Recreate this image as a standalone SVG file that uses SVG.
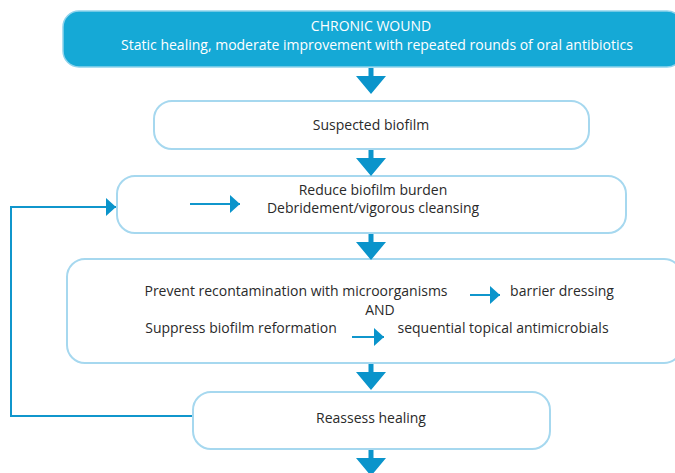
<svg xmlns="http://www.w3.org/2000/svg" width="675" height="473" viewBox="0 0 675 473">
<defs>
<style>
.box{fill:#ffffff;stroke:#a6d8ef;stroke-width:2}
.top{fill:#15a9d6;stroke:#8fd3ec;stroke-width:1.5}
.t{font-family:"Open Sans","Liberation Sans",sans-serif;font-size:14px;fill:#2a2a2a;text-anchor:middle}
.tw{font-family:"Open Sans","Liberation Sans",sans-serif;font-size:14px;fill:#ffffff;text-anchor:middle}
.big{fill:#0a94cb}
.ln{stroke:#1096cc;stroke-width:2;fill:none}
</style>
<marker id="ah" markerWidth="10" markerHeight="18" refX="10" refY="9" orient="auto" markerUnits="userSpaceOnUse">
<path d="M0,0 L10,9 L0,18 Z" fill="#0a94cb"/>
</marker>
<path id="bigarrow" d="M-2.5,0 H2.5 V8 H15 L0,26 L-15,8 H-2.5 Z"/>
</defs>

<g id="chronic-wound">
<rect class="top" x="63" y="11" width="620" height="56" rx="16"/>
<text class="tw" x="371" y="31">CHRONIC WOUND</text>
<text class="tw" x="377" y="50">Static healing, moderate improvement with repeated rounds of oral antibiotics</text>
</g>

<g id="suspected-biofilm">
<rect class="box" x="154" y="101" width="435" height="48" rx="18"/>
<text class="t" x="371" y="130">Suspected biofilm</text>
</g>

<g id="reduce-biofilm">
<rect class="box" x="117" y="176" width="509" height="57" rx="18"/>
<text class="t" x="373" y="195">Reduce biofilm burden</text>
<text class="t" x="373" y="213">Debridement/vigorous cleansing</text>
</g>

<g id="prevent-suppress">
<rect class="box" x="67" y="259" width="615" height="104" rx="18"/>
<text class="t" x="296" y="296">Prevent recontamination with microorganisms</text>
<text class="t" x="562" y="296">barrier dressing</text>
<text class="t" x="380" y="315" font-size="13.5">AND</text>
<text class="t" x="241" y="333">Suppress biofilm reformation</text>
<text class="t" x="503" y="333">sequential topical antimicrobials</text>
</g>

<g id="reassess-healing">
<rect class="box" x="193" y="392" width="357" height="57" rx="18"/>
<text class="t" x="371" y="423">Reassess healing</text>
</g>

<g id="connectors">
<use href="#bigarrow" class="big" x="371" y="68"/>
<use href="#bigarrow" class="big" x="371" y="150"/>
<use href="#bigarrow" class="big" x="371" y="234"/>
<use href="#bigarrow" class="big" x="371" y="364"/>
<use href="#bigarrow" class="big" x="371" y="450"/>
<polyline class="ln" points="192,416 11,416 11,207 116,207" marker-end="url(#ah)"/>
<line class="ln" x1="190" y1="204" x2="240" y2="204" marker-end="url(#ah)"/>
<line class="ln" x1="470" y1="295" x2="500" y2="295" marker-end="url(#ah)"/>
<line class="ln" x1="352" y1="337" x2="384" y2="337" marker-end="url(#ah)"/>
</g>
</svg>
